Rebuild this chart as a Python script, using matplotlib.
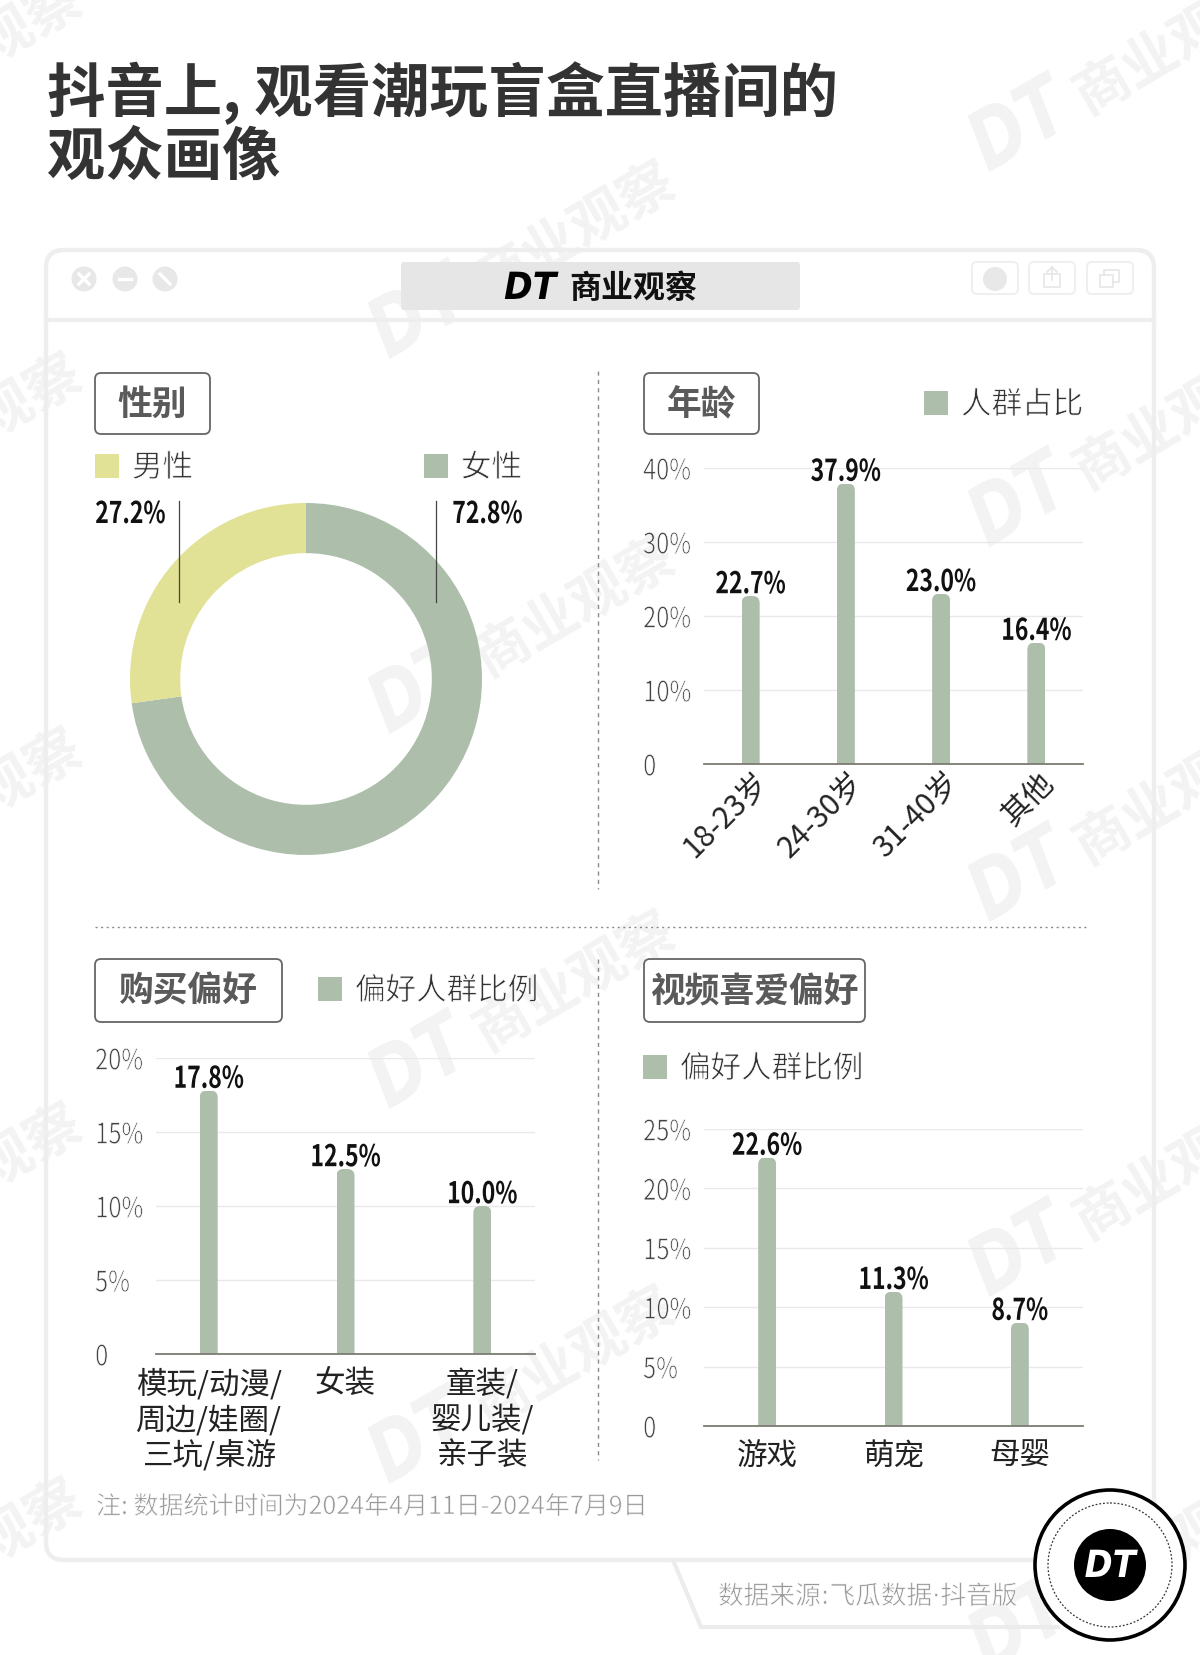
import matplotlib
matplotlib.use('Agg')
import matplotlib.pyplot as plt
from matplotlib.patches import Circle, Rectangle, FancyBboxPatch, Polygon, Ellipse
from matplotlib.patheffects import AbstractPathEffect
from matplotlib.transforms import Affine2D, IdentityTransform, ScaledTranslation

CJK = 'Noto Sans CJK SC'
plt.rcParams['font.family'] = [CJK, 'DejaVu Sans']

W, H = 1200, 1655
GREEN = '#adbfab'
YELLOW = '#e1e296'
BASE = '#7c7b72'

# data
gender_labels = ['女性', '男性']
gender_values = [72.8, 27.2]

age_labels = ['18-23岁', '24-30岁', '31-40岁', '其他']
age_values = [22.7, 37.9, 23.0, 16.4]
age_ticks = [0, 10, 20, 30, 40]

buy_labels = ['模玩/动漫/\n周边/娃圈/\n三坑/桌游', '女装', '童装/\n婴儿装/\n亲子装']
buy_values = [17.8, 12.5, 10.0]
buy_ticks = [0, 5, 10, 15, 20]

video_labels = ['游戏', '萌宠', '母婴']
video_values = [22.6, 11.3, 8.7]
video_ticks = [0, 5, 10, 15, 20, 25]


class Squeeze(AbstractPathEffect):
    # narrows the glyphs (no condensed font here), a white outline makes them look lighter
    def __init__(self, sx=1.0, ha='left', thin=0):
        super().__init__()
        self.sx, self.ha, self.thin = sx, ha, thin

    def draw_path(self, renderer, gc, tpath, affine, rgbFace=None):
        ext = tpath.get_extents()
        anchor = {'left': ext.x0, 'center': (ext.x0 + ext.x1) / 2, 'right': ext.x1}[self.ha]
        tr = Affine2D().translate(-anchor, 0).scale(self.sx, 1).translate(anchor, 0) + affine
        gc0 = renderer.new_gc()
        gc0.copy_properties(gc)
        gc0.set_linewidth(self.thin)
        if self.thin:
            gc0.set_foreground('white')
        renderer.draw_path(gc0, tpath, tr, rgbFace)
        gc0.restore()


fig = plt.figure(figsize=(W / 100, H / 100), dpi=100, facecolor='white')


def overlay(z):
    ax = fig.add_axes([0, 0, 1, 1], zorder=z)
    ax.set_xlim(0, W)
    ax.set_ylim(H, 0)
    ax.axis('off')
    return ax


# pixel coords: bg for frame, tabs and legends, fg for what sits on the charts
bg = overlay(0)
fg = overlay(3)


def px_axes(x0, y0, x1, y1):
    ax = fig.add_axes([x0 / W, 1 - y1 / H, (x1 - x0) / W, (y1 - y0) / H], zorder=2)
    ax.patch.set_alpha(0)
    return ax


# watermark, anchors are the lower left corner of the D
wm_anchor = [(988, 173), (988, 548), (988, 923), (988, 1298), (988, 1673),
             (388, -15), (388, 360), (388, 735), (388, 1110), (388, 1485),
             (-205, 177), (-205, 552), (-205, 927), (-205, 1302), (-205, 1677)]
WM = '#f3f3f3'
for wx, wy in wm_anchor:
    bg.text(wx, wy, 'DT', rotation=30, rotation_mode='anchor', ha='left', va='baseline', fontsize=59,
            weight='bold', style='italic', color=WM, family='DejaVu Sans', zorder=0,
            path_effects=[Squeeze(0.8)])
    bg.text(wx + 99, wy - 58, '商业观察', rotation=30, rotation_mode='anchor', ha='left', va='baseline',
            fontsize=40, weight='bold', color=WM, zorder=0)

# title
bg.text(47, 93, '抖音上, 观看潮玩盲盒直播间的', fontsize=42, weight='bold', color='#333333', va='center')
bg.text(47, 158, '观众画像', fontsize=42, weight='bold', color='#333333', va='center')

# window frame
bg.add_patch(FancyBboxPatch((46, 250), 1108, 1310, boxstyle='round,pad=0,rounding_size=18',
                            fc='none', ec='#eeeeee', lw=3.2, zorder=1))
bg.plot([46, 1154], [320, 320], color='#eeeeee', lw=3, zorder=1)
bg.add_patch(FancyBboxPatch((401, 262), 399, 48, boxstyle='round,pad=0,rounding_size=3',
                            fc='#e6e6e6', ec='none', zorder=1))
bg.text(504, 289, 'DT', fontsize=27, weight='bold', style='italic', color='black',
        family='DejaVu Sans', ha='left', va='center', zorder=2, path_effects=[Squeeze(0.92)])
bg.text(569, 289, '商业观察', fontsize=23, weight='bold', color='#111111', va='center', zorder=2)

# window buttons
for cx, mark in zip([84, 125, 165], ['x', '-', '/']):
    bg.add_patch(Circle((cx, 279), 12.5, fc='#e8e8e8', ec='none', zorder=1))
    if mark == 'x':
        bg.plot([cx - 5, cx + 5], [274, 284], color='white', lw=2.4, zorder=2)
        bg.plot([cx - 5, cx + 5], [284, 274], color='white', lw=2.4, zorder=2)
    elif mark == '-':
        bg.plot([cx - 6, cx + 6], [279, 279], color='white', lw=2.4, zorder=2)
    else:
        bg.plot([cx - 5, cx + 5], [274, 284], color='white', lw=2.4, zorder=2)
for rx in [972, 1029, 1087]:
    bg.add_patch(FancyBboxPatch((rx, 262), 46, 32, boxstyle='round,pad=0,rounding_size=5',
                                fc='none', ec='#efefef', lw=1.4, zorder=1))
bg.add_patch(Ellipse((995, 279), 24, 24, fc='#e8e8e8', ec='none', zorder=1))
bg.add_patch(Rectangle((1044, 274), 16, 13, fc='none', ec='#e6e6e6', lw=1.2, zorder=1))
bg.plot([1047, 1052, 1057], [272, 267, 272], color='#e6e6e6', lw=1.2, zorder=1)
bg.plot([1052, 1052], [267, 280], color='#e6e6e6', lw=1.2, zorder=1)
bg.add_patch(Rectangle((1100, 275), 13, 12, fc='none', ec='#e6e6e6', lw=1.2, zorder=1))
bg.plot([1104, 1104, 1119, 1119, 1113], [275, 270, 270, 282, 282], color='#e6e6e6', lw=1.2, zorder=1)

# dashed dividers
bg.plot([598, 598], [371, 889], color='#8a8a8a', lw=1, ls=(0, (3, 3)), zorder=1)
bg.plot([598, 598], [959, 1460], color='#8a8a8a', lw=1, ls=(0, (3, 3)), zorder=1)
bg.plot([95, 1087], [927, 927], color='#8a8a8a', lw=1, ls=(0, (1.5, 2.5)), zorder=1)


def tab(x0, y0, x1, y1, label):
    bg.add_patch(FancyBboxPatch((x0, y0), x1 - x0, y1 - y0, boxstyle='round,pad=0,rounding_size=6',
                                fc='white', ec='#666666', lw=1.3, zorder=1))
    bg.text((x0 + x1) / 2, (y0 + y1) / 2 + 1, label, fontsize=25, weight='bold', color='#5a5a5a',
            ha='center', va='center', zorder=2)


def legend_item(x, y, color, label):
    bg.add_patch(Rectangle((x, y - 12), 24, 24, fc=color, ec='none', zorder=1))
    bg.text(x + 37, y + 2, label, fontsize=22, color='#333333', va='center', zorder=2,
            path_effects=[Squeeze(thin=0.55)])


tab(95, 373, 210, 434, '性别')
tab(644, 373, 759, 434, '年龄')
tab(95, 959, 282, 1022, '购买偏好')
tab(644, 959, 865, 1022, '视频喜爱偏好')

legend_item(95, 466, YELLOW, '男性')
legend_item(424, 466, GREEN, '女性')
legend_item(924, 403, GREEN, '人群占比')
legend_item(318, 989, GREEN, '偏好人群比例')
legend_item(643, 1067, GREEN, '偏好人群比例')

# donut
donut = px_axes(130, 503, 482, 855)
donut.pie(gender_values, colors=[GREEN, YELLOW], startangle=90, counterclock=False, radius=1,
          wedgeprops={'width': 0.285, 'linewidth': 0})
donut.set_xlim(-1, 1)
donut.set_ylim(-1, 1)

fg.plot([179, 179], [501, 602], color='#444444', lw=0.9)
fg.plot([436, 436], [501, 602], color='#444444', lw=0.9)
donut_labels = {'男性': (95, 'left'), '女性': (523, 'right')}
for name, value in zip(gender_labels, gender_values):
    lx, lha = donut_labels[name]
    fg.text(lx, 514, f'{value}%', fontsize=21.5, weight='bold', color='#111111',
            ha=lha, va='center', path_effects=[Squeeze(0.77, lha)])


def bar_panel(box, labels, values, ticks, bar_px=18, xmargin=0.5):
    ax = px_axes(*box)
    xs = list(range(len(values)))
    ax.set_xlim(-xmargin, len(values) - 1 + xmargin)
    ax.set_ylim(ticks[0], ticks[-1])
    unit = (box[2] - box[0]) / (len(values) - 1 + 2 * xmargin)
    bars = ax.bar(xs, values, width=bar_px / unit, color=GREEN, zorder=2)

    # round off the bar tops
    fig.canvas.draw()
    for rect in bars:
        (x0, y0), (x1, y1) = ax.transData.transform([(rect.get_x(), 0),
                                                    (rect.get_x() + rect.get_width(), rect.get_height())])
        clip = FancyBboxPatch((x0, y0 - 20), x1 - x0, y1 - y0 + 20,
                              boxstyle='round,pad=0,rounding_size=7', transform=IdentityTransform())
        rect.set_clip_path(clip)

    ax.set_yticks(ticks)
    ax.set_yticklabels(['0' if t == 0 else f'{t}%' for t in ticks], fontsize=20.5, color='#444444', ha='left')
    for lab in ax.get_yticklabels():
        lab.set_path_effects([Squeeze(0.83, 'left', thin=0.5)])
    ax.tick_params(axis='y', length=0, pad=44)
    ax.tick_params(axis='x', length=0)
    ax.grid(axis='y', color='#e9e9e9', lw=1, zorder=0)
    ax.set_axisbelow(True)
    for s in ['top', 'right', 'left']:
        ax.spines[s].set_visible(False)
    ax.spines['bottom'].set_color(BASE)
    ax.spines['bottom'].set_linewidth(1.3)
    for x, v in zip(xs, values):
        ax.annotate(f'{v:.1f}%', (x, v), xytext=(0, 8.5), textcoords='offset points', ha='center',
                    va='center', fontsize=21.5, weight='bold', color='#111111', annotation_clip=False,
                    path_effects=[Squeeze(0.77, 'center')])
    ax.set_xticks(xs)
    return ax


age_ax = bar_panel((704, 468, 1083, 764), age_labels, age_values, age_ticks, xmargin=0.49)
age_ax.set_xticklabels(age_labels, rotation=45, ha='right', rotation_mode='anchor', fontsize=21.5, color='#222222')
age_ax.tick_params(axis='x', pad=2)
for lab in age_ax.get_xticklabels():
    lab.set_transform(lab.get_transform() + ScaledTranslation(2 / 100, 0, fig.dpi_scale_trans))

buy_ax = bar_panel((156, 1058, 535, 1354), buy_labels, buy_values, buy_ticks, xmargin=0.385)
buy_ax.set_xticklabels(buy_labels, fontsize=22, color='#222222', linespacing=1.18)
buy_ax.tick_params(axis='x', pad=11)

video_ax = bar_panel((704, 1129, 1083, 1426), video_labels, video_values, video_ticks, xmargin=0.5)
video_ax.set_xticklabels(video_labels, fontsize=22, color='#222222')
video_ax.tick_params(axis='x', pad=10.5)

# footer
bg.text(96, 1507, '注: 数据统计时间为2024年4月11日-2024年7月9日', fontsize=18, color='#999999',
        va='center', zorder=2, path_effects=[Squeeze(thin=0.45)])
bg.add_patch(Polygon([(673, 1560), (701, 1627), (1060, 1627)], closed=False, fc='none', ec='#ececec', lw=3, zorder=1))
bg.text(718, 1597, '数据来源:飞瓜数据·抖音版', fontsize=18.5, color='#999999', va='center', zorder=2,
        family=['DejaVu Sans', CJK], path_effects=[Squeeze(thin=0.45)])

# badge
fg.add_patch(Circle((1110, 1565), 75, fc='white', ec='black', lw=2.6))
fg.add_patch(Circle((1110, 1565), 62, fc='none', ec='#333333', lw=0.9, ls=(0, (1.5, 1.5))))
fg.add_patch(Circle((1110, 1565), 36, fc='black', ec='none'))
fg.text(1110, 1567, 'DT', fontsize=27, weight='bold', style='italic', color='white', family='DejaVu Sans',
        ha='center', va='center', path_effects=[Squeeze(0.9, 'center')])

fig.savefig('out.png', dpi=100)
